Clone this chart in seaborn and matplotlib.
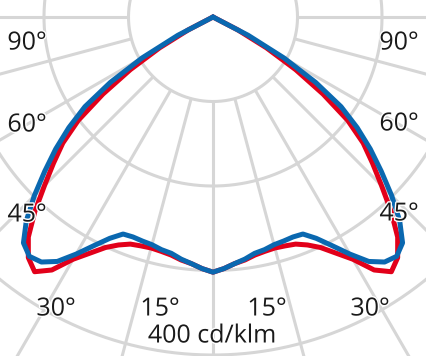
import numpy as np
import pandas as pd
import matplotlib
matplotlib.use("Agg")
import matplotlib.pyplot as plt
import matplotlib.patheffects as pe
import seaborn as sns

# ---- data (cd/klm); symmetric about 0 deg ----
angles = [0, 2.5, 5, 7.5, 10, 12.5, 15, 17.5, 20, 22.5, 25, 27.5, 30, 32.5, 35,
          37.5, 40, 42.5, 45, 47.5, 50, 52.5, 55, 57.5, 60, 62.5, 65, 90]
red_vals = [302, 298, 293, 290, 286, 284, 283, 284, 286, 292, 301, 315, 331, 355, 368,
            359, 340, 312, 282, 256, 232, 201, 159, 116, 73, 33, 0, 0]
blue_vals = [302, 298, 293, 289, 284, 282, 279, 278, 277, 278, 289, 305, 324, 343, 354,
             357, 349, 327, 299, 270, 243, 215, 185, 144, 97, 47, 0, 0]
series_names = ["C0-C180", "C90-C270"]
angle_labels = ["90°", "60°", "45°", "30°", "15°"]
unit_label = "400 cd/klm"
ring_values = [100, 200, 300, 400, 500]

sns.set_theme(style="white")
plt.rcParams["font.family"] = ["Open Sans", "DejaVu Sans"]

W, H = 427, 356
cx, cy = 213.0, 17.0          # pixel position of the polar centre
s = 0.845                     # pixels per cd/klm

fig = plt.figure(figsize=(W / 100, H / 100), dpi=100)
ax = fig.add_axes([0, 0, 1, 1])
ax.set_xlim(-cx / s, (W - cx) / s)
ax.set_ylim(-(H - cy) / s, cy / s)
ax.set_aspect("auto")
ax.axis("off")

grid_col = "#d6d6d6"
glw = 2.2
t = np.linspace(0, 2 * np.pi, 721)
for rv in ring_values[:-1]:
    ax.plot(rv * np.cos(t), rv * np.sin(t), color=grid_col, lw=glw, zorder=1)
for deg in range(0, 360, 15):
    a = np.deg2rad(deg)
    ax.plot([ring_values[0] * np.sin(a), 600 * np.sin(a)],
            [-ring_values[0] * np.cos(a), -600 * np.cos(a)],
            color=grid_col, lw=glw, zorder=1, solid_capstyle="butt")

# build curve table (angle signed: + to the left, - to the right)
rows = []
for name, vals in zip(series_names, [red_vals, blue_vals]):
    full_a = [-a for a in angles[::-1]] + angles[1:]
    full_r = vals[::-1] + vals[1:]
    for k, (a, r) in enumerate(zip(full_a, full_r)):
        rad = np.deg2rad(a)
        rows.append({"series": name, "order": k,
                     "x": -r * np.sin(rad), "y": -r * np.cos(rad)})
df = pd.DataFrame(rows)

sns.lineplot(data=df, x="x", y="y", hue="series", sort=False, estimator=None,
             palette={"C0-C180": "#e2001a", "C90-C270": "#0a68b0"},
             linewidth=3.6, legend=False, ax=ax, zorder=3)
ax.set_xlim(-cx / s, (W - cx) / s)
ax.set_ylim(-(H - cy) / s, cy / s)
ax.axis("off")

txt_kw = dict(fontsize=18, color="#1a1a1a", ha="center", va="center", zorder=5,
              path_effects=[pe.withStroke(linewidth=2, foreground="white")])
left_pos = [(27, 43), (27, 125), (27, 215), (56, 309), (160, 309)]
right_pos = [(399, 43), (399, 124), (399, 214), (370, 309), (267, 309)]
for lab, (lx, ly), (rx, ry) in zip(angle_labels, left_pos, right_pos):
    fig.text(lx / W, 1 - ly / H, lab, **txt_kw)
    fig.text(rx / W, 1 - ry / H, lab, **txt_kw)
fig.text(212 / W, 1 - 336 / H, unit_label, **txt_kw)

fig.savefig("out.png", dpi=100)
